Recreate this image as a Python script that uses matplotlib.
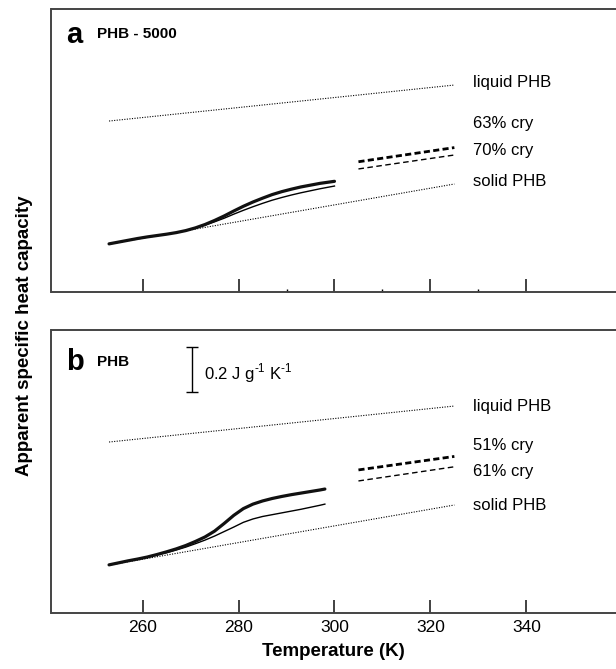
import matplotlib
matplotlib.use('Agg')
import matplotlib.pyplot as plt
from matplotlib.ticker import FixedLocator

plt.rcParams['font.family'] = ['Liberation Sans', 'DejaVu Sans']
plt.rcParams['mathtext.fontset'] = 'custom'
plt.rcParams['mathtext.rm'] = 'Liberation Sans'

# reference lines (J g-1 K-1, arbitrary offset)
t_ref = [253, 325]
cp_liquid = [1.76, 1.92]
cp_solid = [1.213, 1.48]

# high temperature measured Cp (dashed)
t_high = [305, 325]
cp_a_63 = [1.579, 1.642]
cp_a_70 = [1.547, 1.609]
cp_b_51 = [1.636, 1.696]
cp_b_61 = [1.587, 1.650]

# apparent Cp curves, panel a
t_a = [253, 255, 257, 259, 261, 263, 265, 267, 269, 271, 273, 275, 277, 279,
       281, 283, 285, 287, 289, 291, 293, 295, 297, 299, 300]
cp_a_thick = [1.214, 1.222, 1.230, 1.238, 1.245, 1.251, 1.257, 1.264, 1.273, 1.285,
              1.300, 1.318, 1.338, 1.360, 1.381, 1.400, 1.417, 1.433, 1.446, 1.457,
              1.467, 1.475, 1.483, 1.489, 1.492]
cp_a_thin = [1.214, 1.222, 1.230, 1.238, 1.245, 1.251, 1.257, 1.264, 1.273, 1.284,
             1.297, 1.312, 1.328, 1.346, 1.363, 1.379, 1.394, 1.408, 1.420, 1.431,
             1.441, 1.450, 1.459, 1.467, 1.471]

# panel b
t_b = [253, 255, 257, 259, 261, 263, 265, 267, 269, 271, 273, 275, 277, 279,
       281, 283, 285, 287, 289, 291, 293, 295, 297, 298]
cp_b_thick = [1.214, 1.223, 1.232, 1.240, 1.249, 1.260, 1.272, 1.285, 1.300, 1.318,
              1.338, 1.364, 1.398, 1.434, 1.464, 1.484, 1.498, 1.509, 1.518, 1.526,
              1.533, 1.540, 1.547, 1.551]
cp_b_thin = [1.214, 1.223, 1.232, 1.240, 1.249, 1.259, 1.268, 1.280, 1.293, 1.308,
             1.324, 1.342, 1.362, 1.382, 1.403, 1.418, 1.429, 1.437, 1.445, 1.453,
             1.461, 1.470, 1.479, 1.484]

labels_a = ['liquid PHB', '63% cry', '70% cry', 'solid PHB']
labels_b = ['liquid PHB', '51% cry', '61% cry', 'solid PHB']
label_y_a = [1.933, 1.75, 1.631, 1.493]
label_y_b = [1.92, 1.744, 1.627, 1.48]

W, H = 616, 669
fig = plt.figure(figsize=(W / 100, H / 100), dpi=100)

def px_axes(left, top, bottom):
    return fig.add_axes([left / W, 1 - bottom / H, 1 - left / W, (bottom - top) / H])

ax_a = px_axes(51.5, 9, 292)
ax_b = px_axes(51.5, 330, 613)

def draw(ax, t, thick, thin, hi1, hi2, labels, label_y):
    ax.plot(t_ref, cp_liquid, color='k', lw=0.8, ls=(0, (1, 1.3)))
    ax.plot(t_ref, cp_solid, color='k', lw=0.8, ls=(0, (1, 1.3)))
    ax.plot(t, thin, color='k', lw=1.0, solid_joinstyle='round')
    ax.plot(t, thick, color='#111111', lw=2.3, solid_joinstyle='round',
            solid_capstyle='round')
    ax.plot(t_high, hi1, color='k', lw=2.0, ls=(0, (2.2, 1.2)))
    ax.plot(t_high, hi2, color='k', lw=1.0, ls=(0, (4, 2.5)))
    for lab, yy in zip(labels, label_y):
        ax.text(328.8, yy, lab, fontsize=12, ha='left', va='center')
    ax.set_xlim(241, 358.7)
    ax.set_ylim(1.0, 2.258)
    ax.set_yticks([])
    ax.spines['right'].set_visible(False)
    for s in ['top', 'bottom', 'left']:
        ax.spines[s].set_linewidth(1.4)
        ax.spines[s].set_color('#444444')
    ax.xaxis.set_major_locator(FixedLocator([260, 280, 300, 320, 340]))
    ax.tick_params(axis='x', direction='in', length=9.5, width=1.3, color='#333333',
                   labelsize=12.5, pad=5)

draw(ax_a, t_a, cp_a_thick, cp_a_thin, cp_a_63, cp_a_70, labels_a, label_y_a)
draw(ax_b, t_b, cp_b_thick, cp_b_thin, cp_b_51, cp_b_61, labels_b, label_y_b)

ax_a.xaxis.set_minor_locator(FixedLocator([290, 310, 330]))
ax_a.tick_params(axis='x', which='minor', direction='in', length=2.5, width=1.0)
ax_a.tick_params(axis='x', labelbottom=False)

ax_a.text(0.026, 0.908, 'a', transform=ax_a.transAxes, fontsize=21, fontweight='bold',
          ha='left', va='center')
ax_a.text(0.081, 0.91, 'PHB - 5000', transform=ax_a.transAxes, fontsize=11,
          fontweight='bold', ha='left', va='center')
ax_b.text(0.026, 0.887, 'b', transform=ax_b.transAxes, fontsize=21, fontweight='bold',
          ha='left', va='center')
ax_b.text(0.081, 0.887, 'PHB', transform=ax_b.transAxes, fontsize=11,
          fontweight='bold', ha='left', va='center')

# scale bar
ax_b.errorbar([270.3], [2.082], yerr=[0.1], color='k', lw=1.0, capsize=4.5, capthick=1.0)
ax_b.text(272.7, 2.067, r'0.2 J g$^{\text{-1}}$ K$^{\text{-1}}$', fontsize=12,
          ha='left', va='center')

ax_b.set_xlabel('Temperature (K)', fontsize=13.5, fontweight='bold', labelpad=6)
fig.text(25 / W, 1 - 336 / H, 'Apparent specific heat capacity', rotation=90,
         fontsize=13.5, fontweight='bold', ha='center', va='center')

fig.savefig('out.png', dpi=100)
